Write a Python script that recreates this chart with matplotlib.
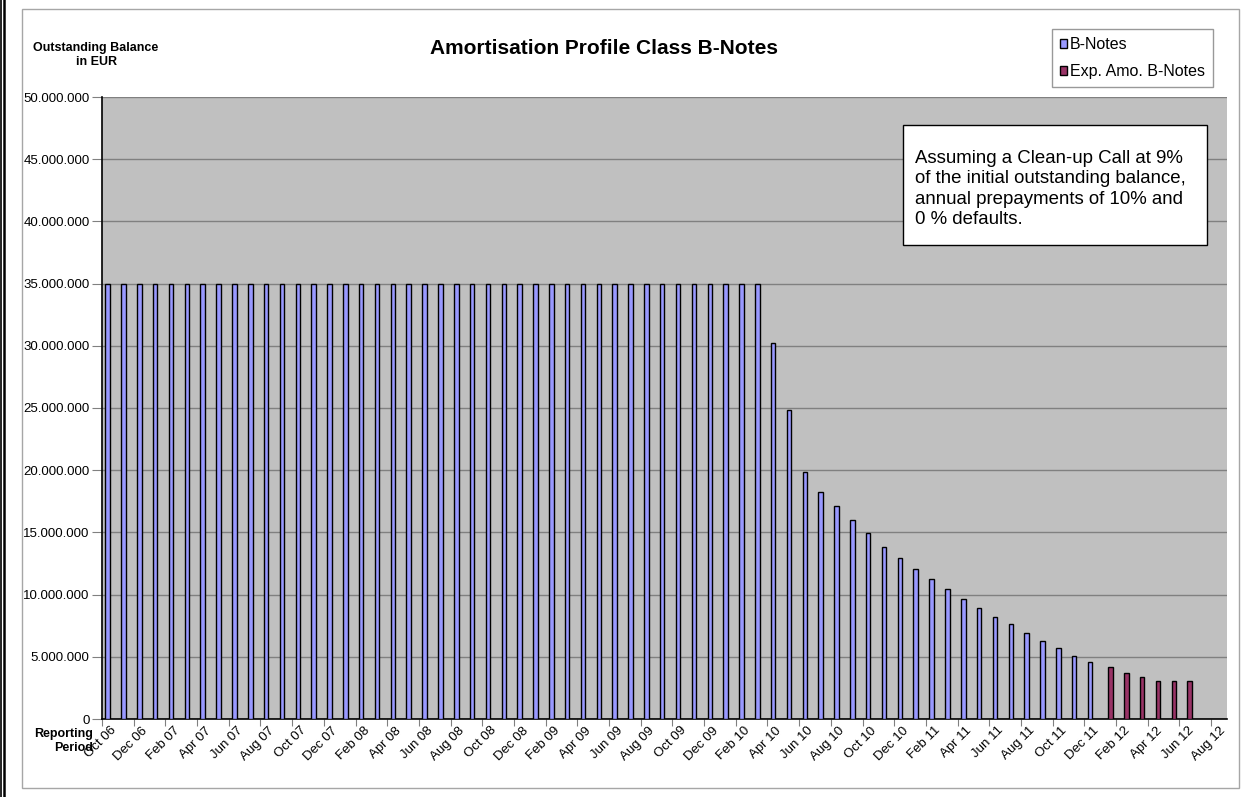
import numpy as np
import matplotlib
matplotlib.use("Agg")
import matplotlib.pyplot as plt
from matplotlib.patches import Rectangle
from matplotlib.lines import Line2D
from matplotlib.ticker import FuncFormatter

plt.rcParams['font.family'] = ['Liberation Sans', 'DejaVu Sans']

# ---------------- data ----------------
periods = [
    "Oct 06", "Nov 06", "Dec 06", "Jan 07", "Feb 07", "Mar 07", "Apr 07", "May 07", "Jun 07",
    "Jul 07", "Aug 07", "Sep 07", "Oct 07", "Nov 07", "Dec 07", "Jan 08", "Feb 08", "Mar 08",
    "Apr 08", "May 08", "Jun 08", "Jul 08", "Aug 08", "Sep 08", "Oct 08", "Nov 08", "Dec 08",
    "Jan 09", "Feb 09", "Mar 09", "Apr 09", "May 09", "Jun 09", "Jul 09", "Aug 09", "Sep 09",
    "Oct 09", "Nov 09", "Dec 09", "Jan 10", "Feb 10", "Mar 10", "Apr 10", "May 10", "Jun 10",
    "Jul 10", "Aug 10", "Sep 10", "Oct 10", "Nov 10", "Dec 10", "Jan 11", "Feb 11", "Mar 11",
    "Apr 11", "May 11", "Jun 11", "Jul 11", "Aug 11", "Sep 11", "Oct 11", "Nov 11", "Dec 11",
    "Jan 12", "Feb 12", "Mar 12", "Apr 12", "May 12", "Jun 12", "Jul 12", "Aug 12",
]

b_notes = [
    35000000, 35000000, 35000000, 35000000, 35000000, 35000000, 35000000, 35000000, 35000000,
    35000000, 35000000, 35000000, 35000000, 35000000, 35000000, 35000000, 35000000, 35000000,
    35000000, 35000000, 35000000, 35000000, 35000000, 35000000, 35000000, 35000000, 35000000,
    35000000, 35000000, 35000000, 35000000, 35000000, 35000000, 35000000, 35000000, 35000000,
    35000000, 35000000, 35000000, 35000000, 35000000, 35000000, 30200000, 24850000, 19830000,
    18270000, 17120000, 16000000, 14930000, 13850000, 12920000, 12060000, 11280000, 10450000,
    9670000, 8920000, 8220000, 7610000, 6940000, 6290000, 5680000, 5090000, 4560000,
    None, None, None, None, None, None, None, None,
]

exp_amo_b_notes = [None] * 63 + [4150000, 3720000, 3350000, 3050000, 3050000, 3050000, None, None]

series_names = ["B-Notes", "Exp. Amo. B-Notes"]
y_ticks = [0, 5000000, 10000000, 15000000, 20000000, 25000000, 30000000, 35000000, 40000000, 45000000, 50000000]

title = "Amortisation Profile Class B-Notes"
y_title = "Outstanding Balance\nin EUR"
x_title = "Reporting\nPeriod"
note = ("Assuming a Clean-up Call at 9%\nof the initial outstanding balance,\n"
        "annual prepayments of 10% and\n0 % defaults.")

# ---------------- figure ----------------
W, H = 1258, 797
fig = plt.figure(figsize=(W / 100, H / 100), dpi=100)
fig.patch.set_facecolor("white")

def fx(x):
    return x / W

def fy(y):
    return 1 - y / H

# outer decorations (page border lines and chart-area frame)
fig.add_artist(Line2D([fx(0.8), fx(0.8)], [0, 1], color="black", lw=1.2, transform=fig.transFigure))
fig.add_artist(Line2D([fx(4.0), fx(4.0)], [0, 1], color="black", lw=1.8, transform=fig.transFigure))
fig.add_artist(Rectangle((fx(22), fy(788)), fx(1239) - fx(22), fy(9) - fy(788),
                         transform=fig.transFigure, fill=False, edgecolor="#a6a6a6", lw=1.0))

left, right, top, bottom = 102, 1227, 97, 719
ax = fig.add_axes([fx(left), fy(bottom), fx(right) - fx(left), fy(top) - fy(bottom)])
ax.set_facecolor("#c0c0c0")

n = len(periods)
x = np.arange(n)
w = 1 / 3.5
blue = np.array([np.nan if v is None else v for v in b_notes], dtype=float)
red = np.array([np.nan if v is None else v for v in exp_amo_b_notes], dtype=float)

ax.bar(x - w / 2, blue, width=w, color="#9999ff", edgecolor="black", linewidth=1.0, zorder=3,
       label=series_names[0])
ax.bar(x + w / 2, red, width=w, color="#993366", edgecolor="black", linewidth=1.0, zorder=3,
       label=series_names[1])

ax.set_xlim(-0.5, n - 0.5)
ax.set_ylim(0, 50000000)
ax.set_yticks(y_ticks)
ax.yaxis.set_major_formatter(FuncFormatter(lambda v, p: f"{int(v):,}".replace(",", ".")))
ax.grid(axis="y", color="#808080", lw=1.0, zorder=1)
ax.set_axisbelow(True)

# category boundaries every two months as ticks; labels at category centres
ax.set_xticks(np.arange(0, n + 1, 2) - 0.5)
ax.set_xticklabels([])
ax.set_xticks(x[::2], minor=True)
ax.set_xticklabels(periods[::2], minor=True, rotation=45, ha="right", va="top",
                   rotation_mode="anchor", fontsize=9.5)
ax.tick_params(axis="x", which="minor", length=0, pad=4)
ax.tick_params(axis="x", which="major", length=5, color="#808080", direction="out")
ax.tick_params(axis="y", length=7, color="#808080", labelsize=9.5, pad=2)

for s in ["top", "right"]:
    ax.spines[s].set_visible(False)
ax.spines["left"].set_color("black")
ax.spines["bottom"].set_color("black")
ax.spines["left"].set_linewidth(1.2)
ax.spines["bottom"].set_linewidth(1.2)

# titles
fig.text(fx(604), fy(48), title, ha="center", va="center", fontsize=15, fontweight="bold")
fig.text(fx(96), fy(55), y_title, ha="center", va="center", fontsize=9, fontweight="bold",
         linespacing=1.15)
fig.text(fx(93), fy(741), x_title, ha="right", va="center", fontsize=9, fontweight="bold",
         linespacing=1.2)

# legend
leg = fig.legend(loc="upper left", bbox_to_anchor=(fx(1052), fy(29)), fontsize=11.5,
                 frameon=True, fancybox=False, edgecolor="#808080", handlelength=0.45,
                 handleheight=0.45, handletextpad=0.15, borderpad=0.5, labelspacing=0.75,
                 borderaxespad=0)
leg.get_frame().set_linewidth(1.0)

# note box
fig.add_artist(Rectangle((fx(903), fy(245)), fx(1207) - fx(903), fy(125) - fy(245),
                         transform=fig.transFigure, facecolor="white", edgecolor="black", lw=1.0,
                         zorder=5))
fig.text(fx(915), fy(189), note, ha="left", va="center", fontsize=13.4, linespacing=1.27,
         zorder=6)

fig.savefig("out.png", dpi=100, facecolor="white")
